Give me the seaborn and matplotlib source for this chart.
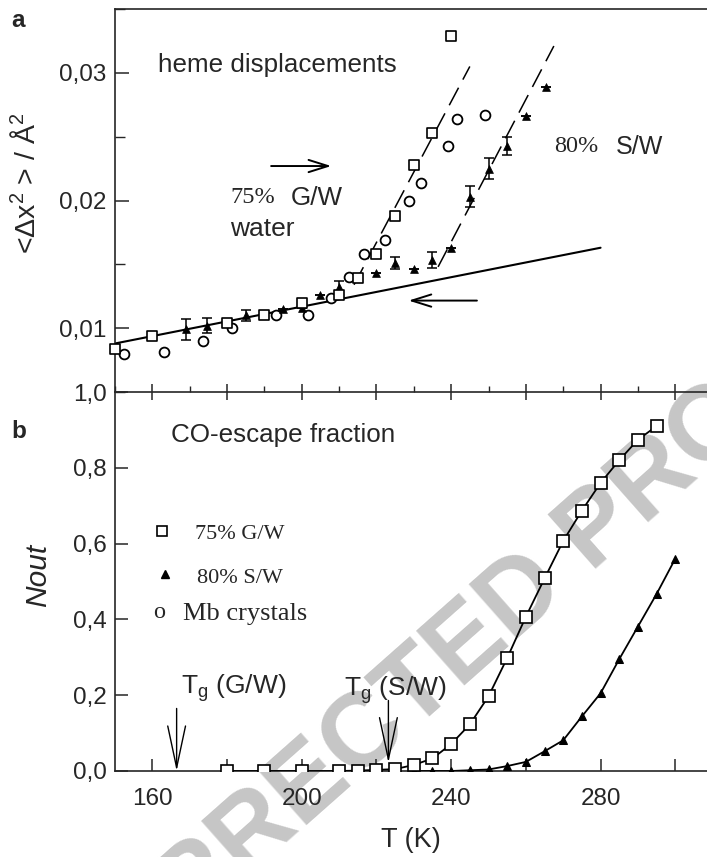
import matplotlib
matplotlib.use('Agg')
import matplotlib.pyplot as plt
from matplotlib.ticker import MultipleLocator, FuncFormatter
import seaborn as sns

# --- panel a: heme displacements <dx^2> ---
gw_T_top = [150, 160, 180, 190, 200, 210, 215, 220, 225, 230, 235, 240]
gw_y_top = [0.0084, 0.0094, 0.0104, 0.0110, 0.0120, 0.0126, 0.0139, 0.0158, 0.0188, 0.0228, 0.0253, 0.0329]

sw_T_top = [169, 174.5, 185, 195, 200, 205, 210, 220, 225, 230, 235, 240, 245, 250, 255, 260, 265.5]
sw_y_top = [0.0099, 0.0102, 0.0110, 0.0115, 0.0116, 0.0126, 0.0132, 0.01435, 0.0151, 0.0146,
            0.01535, 0.0163, 0.0203, 0.0225, 0.0243, 0.0266, 0.0289]
sw_err_top = [0.0008, 0.0006, 0.0004, 0, 0, 0, 0.0005, 0, 0.0005, 0, 0.0006, 0, 0.0008, 0.0008, 0.0007, 0, 0]

mb_T = [152.3, 163, 173.6, 181.4, 193, 201.8, 207.8, 212.6, 216.8, 222.4, 228.6, 232, 239.1, 241.6, 249]
mb_y = [0.0080, 0.0081, 0.0090, 0.0100, 0.0110, 0.0110, 0.01235, 0.0140, 0.0158, 0.0169, 0.0200,
        0.0214, 0.0243, 0.0264, 0.0267]

# linear fits drawn in the figure
fit_T = [150, 280]
fit_y = [0.0088, 0.0163]
gw_dash_T = [214, 245]
gw_dash_y = [0.0134, 0.0305]
sw_dash_T = [236.5, 267.5]
sw_dash_y = [0.0148, 0.0321]

# --- panel b: CO-escape fraction ---
gw_T = [180, 190, 200, 210, 215, 220, 225, 230, 235, 240, 245, 250, 255, 260, 265, 270, 275, 280, 285, 290, 295]
gw_n = [0, 0, 0, 0, 0.001, 0.003, 0.005, 0.016, 0.033, 0.071, 0.123, 0.197, 0.298, 0.407, 0.508,
        0.607, 0.687, 0.760, 0.820, 0.874, 0.910]
sw_T = [230, 235, 240, 245, 250, 255, 260, 265, 270, 275, 280, 285, 290, 295, 300]
sw_n = [0, 0, 0, 0.002, 0.004, 0.013, 0.024, 0.052, 0.081, 0.144, 0.205, 0.295, 0.381, 0.467, 0.560]

tg_gw = 166.5
tg_sw = 223.2

sns.set_theme(style='ticks')
plt.rcParams['font.family'] = ['Liberation Sans', 'DejaVu Sans']
plt.rcParams['mathtext.fontset'] = 'custom'
plt.rcParams['mathtext.rm'] = 'Liberation Sans'
plt.rcParams['mathtext.it'] = 'Liberation Sans:italic'
plt.rcParams['mathtext.default'] = 'rm'
plt.rcParams['axes.linewidth'] = 1.2

FS = 17.5      # tick labels
TXT = 18.7     # sans annotations
SERIF = ['Liberation Serif', 'DejaVu Serif']

fig = plt.figure(figsize=(7.07, 8.57), dpi=100)
W, H = 707, 857
ax_a = fig.add_axes([115 / W, 1 - 392 / H, 592 / W, 383 / H])
ax_b = fig.add_axes([115 / W, 1 - 771 / H, 592 / W, 379 / H])

# watermark behind everything
fig.text(452 / W, 1 - 660 / H, 'CORRECTED PROOF', rotation=41.5, fontsize=76, fontweight='bold',
         color='#c6c6c6', ha='center', va='center', zorder=-1)

comma = lambda fmt: FuncFormatter(lambda v, p: fmt.format(v).replace('.', ','))

# ---------------- panel a ----------------
ax = ax_a
ax.set_facecolor('none')
ax.plot(fit_T, fit_y, color='black', lw=1.5)
ax.plot(gw_dash_T, gw_dash_y, color='black', lw=1.1, ls=(0, (13, 6)))
ax.plot(sw_dash_T, sw_dash_y, color='black', lw=1.1, ls=(0, (13, 6)))

ax.errorbar(sw_T_top, sw_y_top, yerr=sw_err_top, fmt='none', ecolor='black', elinewidth=1.1,
            capsize=3.5, capthick=1.1)
sns.scatterplot(x=mb_T, y=mb_y, marker='o', s=50, facecolor='white', edgecolor='black',
                linewidth=1.3, ax=ax, zorder=3)
sns.scatterplot(x=sw_T_top, y=sw_y_top, marker='^', s=32, color='black', edgecolor='black',
                linewidth=0.5, ax=ax, zorder=4)
sns.scatterplot(x=gw_T_top, y=gw_y_top, marker='s', s=55, facecolor='white', edgecolor='black',
                linewidth=1.2, ax=ax, zorder=5, clip_on=False)

ax.set_xlim(150, 308.5)
ax.set_ylim(0.005, 0.035)
ax.xaxis.set_major_locator(MultipleLocator(20))
ax.xaxis.set_minor_locator(MultipleLocator(10))
ax.tick_params(axis='x', which='major', direction='inout', length=12, width=1.1, labelbottom=False)
ax.tick_params(axis='x', which='minor', direction='in', length=4, width=1.0)
ax.set_yticks([0.01, 0.02, 0.03])
ax.yaxis.set_minor_locator(MultipleLocator(0.005))
ax.yaxis.set_major_formatter(comma('{:.2f}'))
ax.tick_params(axis='y', which='major', direction='in', length=10, width=1.1, labelsize=FS, pad=6)
ax.tick_params(axis='y', which='minor', direction='in', length=7, width=1.0)
ax.spines['right'].set_visible(False)
ax.set_ylabel(r'<$\Delta$x$^2$ > / Å$^2$', fontsize=20.5)
ax.yaxis.set_label_coords(-0.125, 0.546)

ax.text(161.4, 0.0306, 'heme displacements', fontsize=TXT, va='center')
ax.text(180.8, 0.0202, '75%', fontsize=17.5, va='center', family=SERIF)
ax.text(197.1, 0.0202, 'G/W', fontsize=TXT, va='center')
ax.text(180.8, 0.0178, 'water', fontsize=19, va='center')
ax.text(267.5, 0.0242, '80%', fontsize=17.5, va='center', family=SERIF)
ax.text(284.2, 0.0242, 'S/W', fontsize=18, va='center')

arrow_kw = dict(arrowstyle='->, head_length=0.7, head_width=0.22', color='black', lw=1.4,
                mutation_scale=20, shrinkA=0, shrinkB=0)
ax.annotate('', xy=(207.9, 0.0227), xytext=(191.8, 0.0227), arrowprops=arrow_kw)
ax.annotate('', xy=(228.6, 0.01216), xytext=(246.9, 0.01216), arrowprops=arrow_kw)
ax.text(-0.175, 1.0, 'a', transform=ax.transAxes, fontsize=FS, fontweight='bold', va='top')

# ---------------- panel b ----------------
ax = ax_b
ax.set_facecolor('none')
sns.lineplot(x=gw_T, y=gw_n, color='black', lw=1.3, marker='s', markersize=8.2,
             markerfacecolor='white', markeredgecolor='black', markeredgewidth=1.2, ax=ax, zorder=4)
sns.lineplot(x=sw_T, y=sw_n, color='black', lw=1.3, marker='^', markersize=6,
             markerfacecolor='black', markeredgecolor='black', ax=ax, zorder=3)

ax.set_xlim(150, 308.5)
ax.set_ylim(0, 1.0)
ticks_T = list(range(160, 301, 20))
ax.set_xticks(ticks_T)
ax.set_xticklabels([str(t) if t % 40 == 0 else '' for t in ticks_T])
ax.tick_params(axis='x', direction='in', length=9, width=1.1, labelsize=FS, pad=12)
ax.set_yticks([0, 0.2, 0.4, 0.6, 0.8, 1.0])
ax.yaxis.set_major_formatter(comma('{:.1f}'))
ax.tick_params(axis='y', direction='in', length=9, width=1.1, labelsize=FS, pad=6)
ax.spines['right'].set_visible(False)
ax.spines['top'].set_visible(False)
ax.set_xlabel('T (K)', fontsize=19.5)
ax.xaxis.set_label_coords(0.5, -0.148)
ax.set_ylabel('Nout', fontsize=21.5, style='italic')
ax.yaxis.set_label_coords(-0.106, 0.517)

ax.text(165.1, 0.887, 'CO-escape fraction', fontsize=TXT, va='center')
# hand-made legend
ax.plot([162.6], [0.633], marker='s', ms=7, mfc='white', mec='black', mew=1.2, color='black')
ax.text(171.4, 0.623, '75% G/W', fontsize=16, va='center', family=SERIF)
ax.plot([163.3], [0.520], marker='^', ms=5.5, color='black')
ax.text(171.9, 0.509, '80% S/W', fontsize=16, va='center', family=SERIF)
ax.text(161.7, 0.417, 'o', fontsize=FS, va='center', ha='center', family=SERIF)
ax.text(168.1, 0.414, 'Mb crystals', fontsize=19, va='center', family=SERIF)

ax.text(167.8, 0.219, r'T$_g$ (G/W)', fontsize=19, va='center')
ax.text(211.2, 0.214, r'T$_g$ (S/W)', fontsize=19, va='center')
tg_kw = dict(arrowstyle='->, head_length=1.5, head_width=0.32', color='black', lw=1.0,
             mutation_scale=20, shrinkA=0, shrinkB=0)
ax.annotate('', xy=(tg_gw, 0.0), xytext=(tg_gw, 0.165), arrowprops=tg_kw)
ax.annotate('', xy=(tg_sw, 0.022), xytext=(tg_sw, 0.186), arrowprops=tg_kw)
ax.text(-0.175, 0.925, 'b', transform=ax.transAxes, fontsize=FS, fontweight='bold', va='top')

fig.savefig('out.png', dpi=100)
